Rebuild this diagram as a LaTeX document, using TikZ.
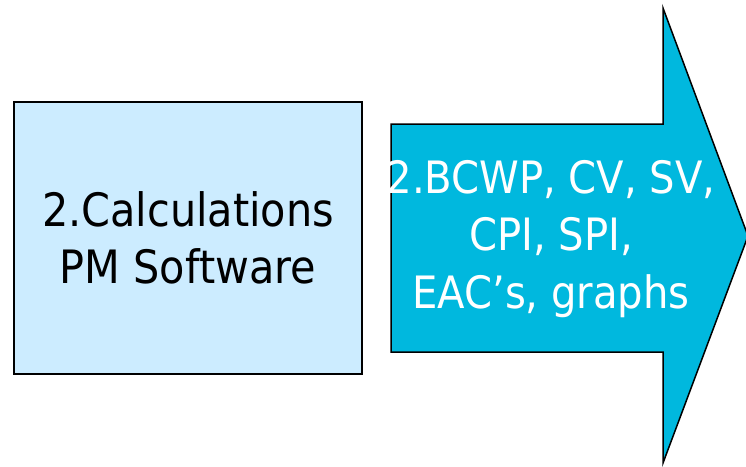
\documentclass[tikz,border=0pt]{standalone}
\usepackage{fontspec}
\setmainfont{DejaVu Sans Condensed}
\definecolor{boxfill}{RGB}{204,236,255}
\definecolor{arrowfill}{RGB}{0,184,222}
\tikzset{
  stagebox/.style={draw=black, line width=1.8pt, fill=boxfill, minimum width=348pt, minimum height=272pt, inner sep=0pt, align=center, font=\fontsize{46}{57.5}\selectfont},
  bigarrow/.style={draw=black, line width=1.5pt, fill=arrowfill, line join=miter},
  arrowtext/.style={text=white, align=center, inner sep=0pt, font=\fontsize{44.6}{57.5}\selectfont}
}
\begin{document}
\begin{tikzpicture}[x=1pt, y=-1pt]
  \useasboundingbox (0,0) rectangle (746,466);
  % input stage
  \node[stagebox] (calc) at (188,238) {2.Calculations\\PM Software};
  % output arrow
  \coordinate (tail top) at (391,124);
  \coordinate (tail bottom) at (391,352);
  \draw[bigarrow] (tail top) -- (663,124) -- (663,8) -- (748,236) -- (663,463) -- (663,352) -- (tail bottom) -- cycle;
  \node[arrowtext] (results) at (551,239) {2.BCWP, CV, SV,\\CPI, SPI,\\EAC’s, graphs};
\end{tikzpicture}
\end{document}
